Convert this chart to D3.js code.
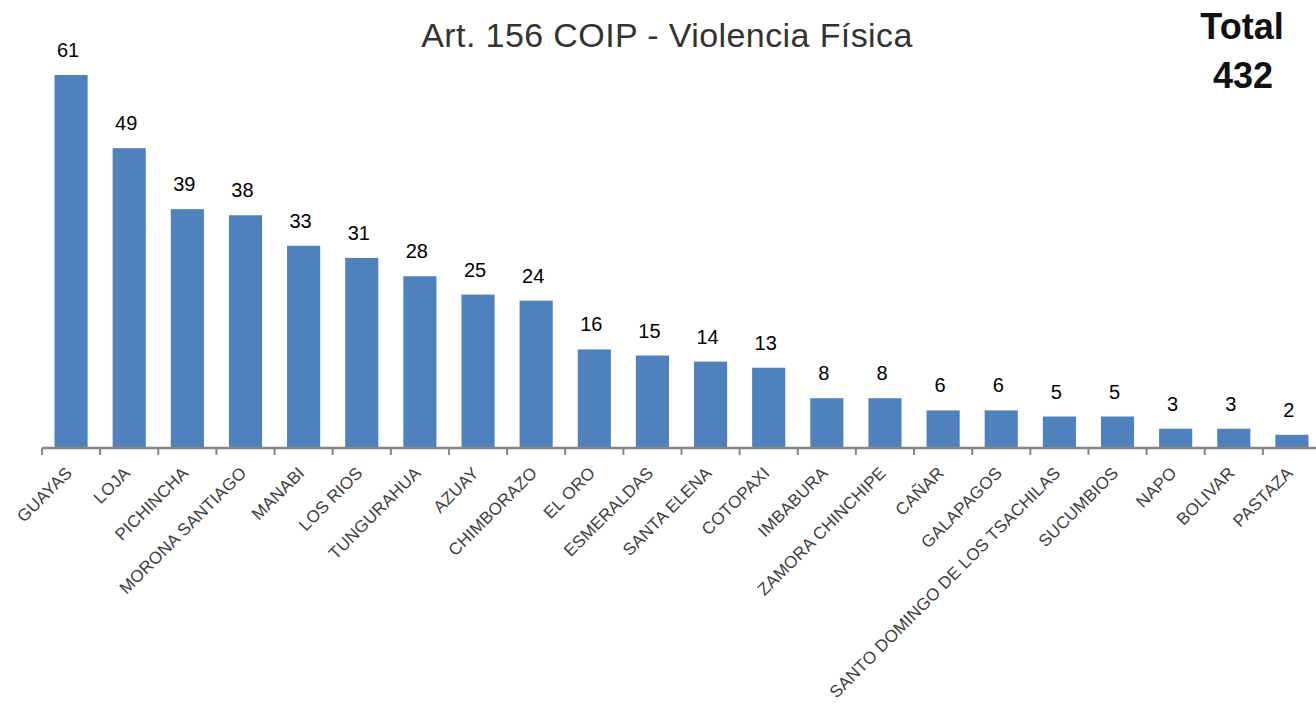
<!DOCTYPE html>
<html><head><meta charset="utf-8">
<script src="https://cdn.jsdelivr.net/npm/d3@7"></script>
<style>body{margin:0;background:#fff;overflow:hidden}</style>
</head><body>
<svg id="c" width="1316" height="707"></svg>
<script>
const categories = ["GUAYAS","LOJA","PICHINCHA","MORONA SANTIAGO","MANABI","LOS RIOS","TUNGURAHUA","AZUAY","CHIMBORAZO","EL ORO","ESMERALDAS","SANTA ELENA","COTOPAXI","IMBABURA","ZAMORA CHINCHIPE","CAÑAR","GALAPAGOS","SANTO DOMINGO DE LOS TSACHILAS","SUCUMBIOS","NAPO","BOLIVAR","PASTAZA"];
const values = [61,49,39,38,33,31,28,25,24,16,15,14,13,8,8,6,6,5,5,3,3,2];
const titleText = "Art. 156 COIP - Violencia Física";
const totalLabel = ["Total","432"];

const F = "Liberation Sans, Arial, sans-serif";
const svg = d3.select("#c");
const x = d3.scaleBand().domain(categories).range([42, 1321]).paddingInner(0.43).paddingOuter(0.215);
const y = d3.scaleLinear().domain([0, 61]).range([447, 75]);

svg.append("g").selectAll("rect").data(values).join("rect")
  .attr("x", (d,i)=>x(categories[i])).attr("width", x.bandwidth())
  .attr("y", d=>y(d)).attr("height", d=>y(0)-y(d)).attr("fill","#4F81BD");

svg.append("g").selectAll("text").data(values).join("text")
  .attr("x",(d,i)=>x(categories[i])+x.bandwidth()/2-3).attr("y", d=>y(d)-18)
  .attr("text-anchor","middle").attr("font-family",F)
  .attr("font-size",20).attr("fill","#000").text(d=>d);

// axis
const ax = svg.append("g");
ax.append("line").attr("x1",42).attr("x2",1321).attr("y1",448).attr("y2",448).attr("stroke","#868686").attr("stroke-width",2.5);
const step = x.step();
const bounds = d3.range(categories.length+1).map(i=>42+i*step);
ax.selectAll("line.t").data(bounds).join("line").attr("class","t")
  .attr("x1",d=>d).attr("x2",d=>d).attr("y1",448).attr("y2",455).attr("stroke","#868686").attr("stroke-width",2);

svg.append("g").selectAll("text").data(categories).join("text")
  .attr("transform",d=>`translate(${x(d)+x.bandwidth()/2+2},${474}) rotate(-45)`)
  .attr("text-anchor","end").attr("font-family",F)
  .attr("font-size",17).attr("letter-spacing",0.2).attr("fill","#404040").text(d=>d);

svg.append("text").attr("x",667).attr("y",47).attr("text-anchor","middle")
  .attr("font-family",F).attr("font-size",34).attr("letter-spacing",0.4).attr("fill","#333").text(titleText);

svg.append("text").attr("x",1242).attr("y",39).attr("text-anchor","middle")
  .attr("font-family",F).attr("font-size",36).attr("font-weight","bold").attr("fill","#111").text(totalLabel[0]);
svg.append("text").attr("x",1243).attr("y",88).attr("text-anchor","middle")
  .attr("font-family",F).attr("font-size",36).attr("font-weight","bold").attr("fill","#111").text(totalLabel[1]);
</script>
</body></html>
